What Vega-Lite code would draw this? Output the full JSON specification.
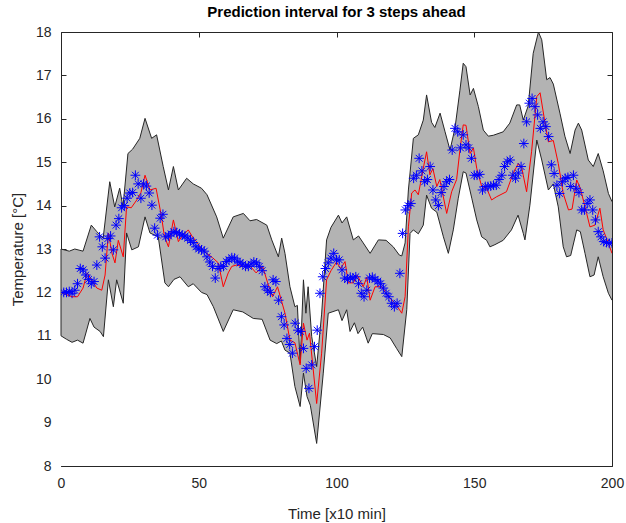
{
  "$schema": "https://vega.github.io/schema/vega-lite/v6.json",
  "width": 551,
  "height": 434,
  "autosize": {"type": "none"},
  "padding": {"left": 61, "top": 32, "right": 14, "bottom": 57},
  "background": "white",
  "config": {
    "font": "Liberation Sans",
    "view": {"stroke": "#262626", "strokeWidth": 1},
    "axis": {
      "domain": false,
      "grid": false,
      "tickColor": "#262626",
      "tickSize": -5,
      "tickWidth": 1,
      "labelColor": "#262626",
      "labelFontSize": 14,
      "labelFlush": false,
      "labelFont": "Liberation Sans",
      "titleFont": "Liberation Sans",
      "titleFontSize": 15,
      "titleFontWeight": "normal",
      "titleColor": "#262626",
      "zindex": 1
    }
  },
  "title": {"text": "Prediction interval for 3 steps ahead", "fontSize": 15, "fontWeight": "bold", "color": "black", "font": "Liberation Sans", "offset": 5},
  "datasets": {
    "hi": [
      {"x":0,"v":13.0},{"x":3,"v":12.95},{"x":5,"v":13.0},{"x":8,"v":12.95},{"x":11,"v":13.55},{"x":13,"v":13.4},{"x":15.3,"v":13.25},{"x":17.7,"v":14.55},{"x":19.5,"v":13.97},{"x":21.3,"v":14.4},{"x":22.5,"v":13.97},{"x":24.3,"v":15.2},{"x":26,"v":15.3},{"x":28.6,"v":15.55},{"x":30.5,"v":16.01},{"x":32.9,"v":15.55},{"x":34.7,"v":15.63},{"x":37.1,"v":14.9},{"x":39,"v":14.36},{"x":40.8,"v":14.9},{"x":42.6,"v":14.36},{"x":45.6,"v":14.63},{"x":48,"v":14.5},{"x":51,"v":14.4},{"x":53,"v":14.25},{"x":56.5,"v":13.74},{"x":58.9,"v":13.25},{"x":62.5,"v":13.74},{"x":66.2,"v":13.82},{"x":68.6,"v":13.65},{"x":71,"v":13.68},{"x":74.7,"v":13.55},{"x":76.5,"v":13.21},{"x":78.9,"v":12.82},{"x":80.1,"v":13.25},{"x":81.3,"v":12.9},{"x":83.1,"v":12.13},{"x":84.9,"v":11.67},{"x":85.8,"v":11.7},{"x":86.8,"v":10.37},{"x":88,"v":12.29},{"x":88.9,"v":11.52},{"x":89.7,"v":12.13},{"x":91,"v":10.98},{"x":92.8,"v":10.29},{"x":94.6,"v":11.5},{"x":96.4,"v":13.21},{"x":98,"v":13.5},{"x":100.7,"v":13.78},{"x":102,"v":13.6},{"x":103.7,"v":13.74},{"x":106.1,"v":13.21},{"x":108,"v":13.3},{"x":109.7,"v":13.14},{"x":112.2,"v":12.9},{"x":115.2,"v":13.21},{"x":118,"v":13.2},{"x":120.6,"v":13.05},{"x":122.8,"v":12.86},{"x":123.7,"v":12.84},{"x":124.9,"v":13.14},{"x":126.1,"v":14.36},{"x":127.9,"v":15.55},{"x":129.7,"v":15.63},{"x":131.5,"v":15.97},{"x":132.7,"v":16.55},{"x":134.5,"v":15.92},{"x":135.7,"v":15.8},{"x":137.6,"v":16.13},{"x":139.4,"v":15.7},{"x":141.2,"v":15.28},{"x":143,"v":15.78},{"x":144.8,"v":16.66},{"x":146,"v":17.28},{"x":147,"v":17.2},{"x":148.5,"v":16.55},{"x":149.7,"v":16.7},{"x":151.5,"v":16.28},{"x":153.3,"v":15.74},{"x":155.1,"v":15.6},{"x":156.9,"v":15.62},{"x":160.5,"v":15.7},{"x":162.9,"v":15.9},{"x":165.4,"v":16.32},{"x":166.5,"v":16.32},{"x":167.8,"v":15.97},{"x":169.6,"v":16.3},{"x":171.4,"v":17.51},{"x":173.3,"v":18.0},{"x":174.5,"v":17.82},{"x":176.3,"v":16.9},{"x":177.5,"v":16.95},{"x":178.7,"v":16.8},{"x":181.1,"v":16.13},{"x":182.9,"v":15.6},{"x":184.8,"v":15.2},{"x":186.6,"v":15.74},{"x":187.8,"v":15.9},{"x":189,"v":15.74},{"x":191.4,"v":15.05},{"x":193.2,"v":14.9},{"x":195,"v":15.2},{"x":196.8,"v":14.8},{"x":198.7,"v":14.28},{"x":200,"v":14.09}
    ],
    "lo": [
      {"x":0,"v":11.0},{"x":2,"v":10.92},{"x":4,"v":10.85},{"x":6,"v":10.9},{"x":8,"v":10.83},{"x":10.5,"v":11.4},{"x":12,"v":11.2},{"x":14.2,"v":11.1},{"x":15.4,"v":10.98},{"x":17.2,"v":12.29},{"x":19,"v":11.67},{"x":20.2,"v":12.29},{"x":22.6,"v":11.75},{"x":23.8,"v":13.37},{"x":25.7,"v":12.98},{"x":28.1,"v":13.05},{"x":30.5,"v":13.74},{"x":32.3,"v":13.37},{"x":35.3,"v":13.28},{"x":37.7,"v":12.22},{"x":39,"v":12.13},{"x":41,"v":12.3},{"x":43.2,"v":12.36},{"x":46.2,"v":12.13},{"x":48,"v":12.2},{"x":51,"v":12.0},{"x":53,"v":11.95},{"x":55.3,"v":11.67},{"x":58.9,"v":11.1},{"x":62.5,"v":11.6},{"x":66,"v":11.55},{"x":69.8,"v":11.4},{"x":73,"v":11.38},{"x":75.9,"v":10.9},{"x":78.3,"v":10.82},{"x":80,"v":10.88},{"x":81.3,"v":10.67},{"x":83.1,"v":10.6},{"x":84.9,"v":9.83},{"x":86.8,"v":9.37},{"x":88,"v":10.14},{"x":89.3,"v":9.6},{"x":90.5,"v":9.4},{"x":92.8,"v":8.52},{"x":95.2,"v":10.14},{"x":97,"v":11.52},{"x":100.7,"v":11.6},{"x":102,"v":11.35},{"x":103.7,"v":11.6},{"x":104.9,"v":11.1},{"x":106.5,"v":11.3},{"x":107.8,"v":11.05},{"x":109.5,"v":11.2},{"x":111.5,"v":10.83},{"x":113,"v":11.05},{"x":117,"v":11.03},{"x":119.5,"v":10.95},{"x":121.8,"v":10.71},{"x":123.7,"v":10.52},{"x":125.5,"v":11.6},{"x":126.7,"v":13.36},{"x":127.9,"v":13.44},{"x":129.7,"v":13.35},{"x":131.5,"v":13.55},{"x":132.7,"v":14.24},{"x":134.5,"v":13.94},{"x":136.4,"v":13.85},{"x":138.8,"v":13.28},{"x":140.6,"v":12.9},{"x":142.4,"v":13.44},{"x":144.2,"v":14.17},{"x":146,"v":14.78},{"x":147,"v":14.75},{"x":149.1,"v":14.17},{"x":150.9,"v":13.67},{"x":152.7,"v":13.28},{"x":154.5,"v":13.2},{"x":155.7,"v":13.05},{"x":157.5,"v":13.1},{"x":160.5,"v":13.2},{"x":163.5,"v":13.44},{"x":165.9,"v":13.78},{"x":167.8,"v":13.36},{"x":168.4,"v":13.21},{"x":170.2,"v":14.01},{"x":172.7,"v":15.51},{"x":174.5,"v":15.05},{"x":176.9,"v":14.36},{"x":178.7,"v":14.5},{"x":180.5,"v":13.97},{"x":182.3,"v":13.05},{"x":183.5,"v":12.82},{"x":185,"v":12.85},{"x":187.2,"v":13.44},{"x":188.5,"v":13.4},{"x":190.2,"v":12.9},{"x":192,"v":12.36},{"x":193.5,"v":12.4},{"x":195,"v":12.82},{"x":196.8,"v":12.36},{"x":198.7,"v":11.98},{"x":200,"v":11.82}
    ],
    "edge": [{"x":0,"lo":11.0,"hi":13.0}],
    "pred": [
      {"x":0,"v":12.0},{"x":2,"v":11.95},{"x":4,"v":11.9},{"x":6,"v":11.9},{"x":8,"v":12.1},{"x":9.5,"v":12.45},{"x":11,"v":12.3},{"x":13,"v":12.1},{"x":14.8,"v":12.05},{"x":16,"v":12.4},{"x":17.2,"v":13.37},{"x":18.5,"v":12.9},{"x":19.6,"v":12.68},{"x":20.8,"v":13.2},{"x":22.6,"v":12.82},{"x":23.8,"v":13.97},{"x":25.5,"v":13.95},{"x":27.5,"v":14.13},{"x":29,"v":14.3},{"x":30.5,"v":14.7},{"x":32.3,"v":14.36},{"x":34.5,"v":14.4},{"x":36.5,"v":13.74},{"x":37.5,"v":13.3},{"x":39,"v":13.05},{"x":40.8,"v":13.67},{"x":42.6,"v":13.17},{"x":44,"v":13.3},{"x":46.2,"v":13.44},{"x":47.5,"v":13.3},{"x":49.2,"v":13.17},{"x":51,"v":13.0},{"x":52.9,"v":12.9},{"x":55,"v":12.8},{"x":57.1,"v":12.68},{"x":58.9,"v":12.13},{"x":60.7,"v":12.45},{"x":62,"v":12.6},{"x":63.7,"v":12.63},{"x":66,"v":12.6},{"x":68.5,"v":12.62},{"x":70.8,"v":12.45},{"x":73.2,"v":12.6},{"x":75,"v":12.22},{"x":76.8,"v":11.9},{"x":78.6,"v":12.13},{"x":81.3,"v":11.52},{"x":83.1,"v":10.9},{"x":84.9,"v":10.84},{"x":86.8,"v":10.33},{"x":88,"v":11.29},{"x":89.3,"v":10.9},{"x":90.2,"v":11.06},{"x":92.8,"v":9.44},{"x":94.6,"v":10.6},{"x":96.4,"v":12.29},{"x":98,"v":12.5},{"x":100,"v":12.7},{"x":101.5,"v":12.55},{"x":103.1,"v":12.71},{"x":104.3,"v":12.22},{"x":106.1,"v":12.22},{"x":107.5,"v":12.4},{"x":109.7,"v":12.13},{"x":111,"v":12.35},{"x":112.2,"v":11.82},{"x":114,"v":12.13},{"x":116.4,"v":12.13},{"x":118.8,"v":11.9},{"x":121.3,"v":11.75},{"x":123.7,"v":11.52},{"x":124.9,"v":11.9},{"x":126.1,"v":13.51},{"x":127.3,"v":14.29},{"x":128.5,"v":14.36},{"x":129.7,"v":14.25},{"x":131.5,"v":14.86},{"x":132.7,"v":15.24},{"x":133.9,"v":14.71},{"x":135,"v":14.85},{"x":136.4,"v":14.44},{"x":137.5,"v":14.6},{"x":140,"v":13.82},{"x":141.8,"v":14.32},{"x":143.6,"v":14.6},{"x":144.8,"v":15.28},{"x":146,"v":15.86},{"x":147,"v":15.85},{"x":148.5,"v":15.2},{"x":149.7,"v":15.33},{"x":150.9,"v":14.86},{"x":152.7,"v":14.44},{"x":154.5,"v":14.4},{"x":156.3,"v":14.13},{"x":158,"v":14.2},{"x":161.7,"v":14.32},{"x":164.1,"v":14.74},{"x":166,"v":14.97},{"x":167.3,"v":14.85},{"x":169,"v":14.32},{"x":170.8,"v":15.24},{"x":172.7,"v":16.51},{"x":173.9,"v":16.6},{"x":175.7,"v":15.9},{"x":176.9,"v":15.47},{"x":178.7,"v":15.5},{"x":180.5,"v":14.97},{"x":182.3,"v":14.28},{"x":184.2,"v":13.9},{"x":185.5,"v":13.92},{"x":187.2,"v":14.59},{"x":188.5,"v":14.4},{"x":190.8,"v":13.82},{"x":192,"v":13.51},{"x":193.8,"v":13.55},{"x":195.6,"v":13.94},{"x":196.8,"v":13.44},{"x":198.7,"v":13.13},{"x":200,"v":12.9}
    ],
    "obs": [
      {"x":1,"v":12.0},{"x":2,"v":12.0},{"x":3,"v":12.02},{"x":4,"v":11.98},{"x":5,"v":12.05},{"x":6,"v":12.2},{"x":7,"v":12.55},{"x":8,"v":12.52},{"x":9,"v":12.4},{"x":10,"v":12.3},{"x":11,"v":12.2},{"x":12,"v":12.25},{"x":13,"v":12.63},{"x":14,"v":13.28},{"x":15,"v":13.05},{"x":16,"v":12.79},{"x":17,"v":13.24},{"x":18,"v":13.3},{"x":19,"v":12.98},{"x":20,"v":13.55},{"x":21,"v":13.7},{"x":22,"v":13.95},{"x":23,"v":14.0},{"x":24,"v":14.17},{"x":25,"v":14.29},{"x":26,"v":14.3},{"x":27,"v":14.7},{"x":28,"v":14.5},{"x":29,"v":14.17},{"x":30,"v":14.5},{"x":31,"v":14.45},{"x":32,"v":14.29},{"x":33,"v":14.01},{"x":34,"v":13.48},{"x":35,"v":13.32},{"x":36,"v":13.71},{"x":37,"v":13.8},{"x":38,"v":13.28},{"x":39,"v":13.3},{"x":40,"v":13.35},{"x":41,"v":13.4},{"x":42,"v":13.38},{"x":43,"v":13.35},{"x":44,"v":13.32},{"x":45,"v":13.3},{"x":46,"v":13.25},{"x":47,"v":13.2},{"x":48,"v":13.15},{"x":49,"v":13.05},{"x":50,"v":13.0},{"x":51,"v":12.98},{"x":52,"v":12.95},{"x":53,"v":12.82},{"x":54,"v":12.7},{"x":55,"v":12.6},{"x":56,"v":12.33},{"x":57,"v":12.55},{"x":58,"v":12.6},{"x":59,"v":12.6},{"x":60,"v":12.71},{"x":61,"v":12.75},{"x":62,"v":12.8},{"x":63,"v":12.79},{"x":64,"v":12.72},{"x":65,"v":12.68},{"x":66,"v":12.65},{"x":67,"v":12.6},{"x":68,"v":12.6},{"x":69,"v":12.65},{"x":70,"v":12.7},{"x":71,"v":12.68},{"x":72,"v":12.6},{"x":73,"v":12.5},{"x":74,"v":12.13},{"x":75,"v":12.05},{"x":76,"v":12.0},{"x":77,"v":12.29},{"x":78,"v":12.25},{"x":79,"v":11.82},{"x":80,"v":11.44},{"x":81,"v":11.25},{"x":82,"v":10.94},{"x":83,"v":10.8},{"x":84,"v":10.6},{"x":85,"v":11.29},{"x":86,"v":11.13},{"x":87,"v":11.1},{"x":88,"v":10.71},{"x":89,"v":10.25},{"x":90,"v":9.79},{"x":91,"v":10.33},{"x":92,"v":10.75},{"x":93,"v":11.13},{"x":94,"v":11.98},{"x":95,"v":12.36},{"x":96,"v":12.55},{"x":97,"v":12.68},{"x":98,"v":12.79},{"x":99,"v":12.9},{"x":100,"v":12.75},{"x":101,"v":12.75},{"x":102,"v":12.52},{"x":103,"v":12.33},{"x":104,"v":12.3},{"x":105,"v":12.35},{"x":106,"v":12.33},{"x":107,"v":12.36},{"x":108,"v":12.2},{"x":109,"v":11.98},{"x":110,"v":11.9},{"x":111,"v":12.05},{"x":112,"v":12.33},{"x":113,"v":12.35},{"x":114,"v":12.3},{"x":115,"v":12.26},{"x":116,"v":12.2},{"x":117,"v":12.1},{"x":118,"v":11.98},{"x":119,"v":11.9},{"x":120,"v":11.75},{"x":121,"v":11.67},{"x":122,"v":11.75},{"x":123,"v":12.44},{"x":124,"v":13.36},{"x":125,"v":13.9},{"x":126,"v":14.0},{"x":127,"v":14.05},{"x":128,"v":14.63},{"x":129,"v":14.7},{"x":130,"v":15.09},{"x":131,"v":14.8},{"x":132,"v":14.55},{"x":133,"v":14.6},{"x":134,"v":14.9},{"x":135,"v":14.36},{"x":136,"v":14.13},{"x":137,"v":14.0},{"x":138,"v":14.3},{"x":139,"v":14.44},{"x":140,"v":14.55},{"x":141,"v":14.6},{"x":142,"v":15.28},{"x":143,"v":15.78},{"x":144,"v":15.7},{"x":145,"v":15.33},{"x":146,"v":15.63},{"x":147,"v":15.4},{"x":148,"v":15.33},{"x":149,"v":15.09},{"x":150,"v":14.7},{"x":151,"v":14.7},{"x":152,"v":14.72},{"x":153,"v":14.36},{"x":154,"v":14.44},{"x":155,"v":14.44},{"x":156,"v":14.45},{"x":157,"v":14.47},{"x":158,"v":14.47},{"x":159,"v":14.6},{"x":160,"v":14.7},{"x":161,"v":14.9},{"x":162,"v":15.01},{"x":163,"v":15.05},{"x":164,"v":14.7},{"x":165,"v":14.63},{"x":166,"v":14.75},{"x":167,"v":14.9},{"x":168,"v":15.43},{"x":169,"v":15.93},{"x":170,"v":16.36},{"x":171,"v":16.47},{"x":172,"v":16.28},{"x":173,"v":16.09},{"x":174,"v":15.78},{"x":175,"v":15.93},{"x":176,"v":15.82},{"x":177,"v":15.59},{"x":178,"v":14.94},{"x":179,"v":14.74},{"x":180,"v":14.47},{"x":181,"v":14.28},{"x":182,"v":14.55},{"x":183,"v":14.63},{"x":184,"v":14.65},{"x":185,"v":14.44},{"x":186,"v":14.7},{"x":187,"v":14.4},{"x":188,"v":14.3},{"x":189,"v":13.9},{"x":190,"v":13.9},{"x":191,"v":14.05},{"x":192,"v":14.13},{"x":193,"v":13.9},{"x":194,"v":13.67},{"x":195,"v":13.4},{"x":196,"v":13.28},{"x":197,"v":13.17},{"x":198,"v":13.15},{"x":199,"v":13.13},{"x":200,"v":13.14}
    ]
  },
  "layer": [
    {
      "data": {"name": "hi"},
      "mark": {"type": "area", "color": "#b3b3b3", "opacity": 1, "clip": true},
      "encoding": {
        "x": {"field": "x", "type": "quantitative", "scale": {"domain": [0, 200], "nice": false}, "axis": {"orient": "bottom", "values": [0, 50, 100, 150, 200], "title": "Time [x10 min]", "labelPadding": 15, "titlePadding": 16}},
        "y": {"field": "v", "type": "quantitative", "scale": {"domain": [8, 18], "nice": false, "zero": false}, "axis": {"orient": "left", "values": [8, 9, 10, 11, 12, 13, 14, 15, 16, 17, 18], "title": "Temperature [°C]", "labelPadding": 15, "titlePadding": 10}},
        "y2": {"datum": 8}
      }
    },
    {
      "data": {"name": "lo"},
      "mark": {"type": "area", "color": "white", "opacity": 1, "clip": true},
      "encoding": {
        "x": {"field": "x", "type": "quantitative", "axis": null},
        "y": {"field": "v", "type": "quantitative", "axis": null},
        "y2": {"datum": 8}
      }
    },
    {
      "data": {"name": "hi"},
      "mark": {"type": "line", "color": "#262626", "strokeWidth": 1, "clip": true},
      "encoding": {
        "x": {"field": "x", "type": "quantitative", "axis": null},
        "y": {"field": "v", "type": "quantitative", "axis": null}
      }
    },
    {
      "data": {"name": "lo"},
      "mark": {"type": "line", "color": "#262626", "strokeWidth": 1, "clip": true},
      "encoding": {
        "x": {"field": "x", "type": "quantitative", "axis": null},
        "y": {"field": "v", "type": "quantitative", "axis": null}
      }
    },
    {
      "data": {"name": "edge"},
      "mark": {"type": "rule", "color": "#262626", "strokeWidth": 1},
      "encoding": {
        "x": {"field": "x", "type": "quantitative", "axis": null},
        "y": {"field": "lo", "type": "quantitative", "axis": null},
        "y2": {"field": "hi"}
      }
    },
    {
      "data": {"name": "pred"},
      "mark": {"type": "line", "color": "#ff0000", "strokeWidth": 1, "clip": true},
      "encoding": {
        "x": {"field": "x", "type": "quantitative", "axis": null},
        "y": {"field": "v", "type": "quantitative", "axis": null}
      }
    },
    {
      "data": {"name": "obs"},
      "mark": {"type": "point", "shape": "M-1,0L1,0M0,-1L0,1M-0.7,-0.7L0.7,0.7M-0.7,0.7L0.7,-0.7", "filled": false, "stroke": "#0000ff", "strokeWidth": 1, "size": 95, "opacity": 1, "clip": true},
      "encoding": {
        "x": {"field": "x", "type": "quantitative", "axis": {"orient": "top", "values": [0, 50, 100, 150, 200], "labels": false, "title": null}},
        "y": {"field": "v", "type": "quantitative", "axis": {"orient": "right", "values": [8, 9, 10, 11, 12, 13, 14, 15, 16, 17, 18], "labels": false, "title": null}}
      }
    }
  ],
  "resolve": {"axis": {"x": "independent", "y": "independent"}}
}
